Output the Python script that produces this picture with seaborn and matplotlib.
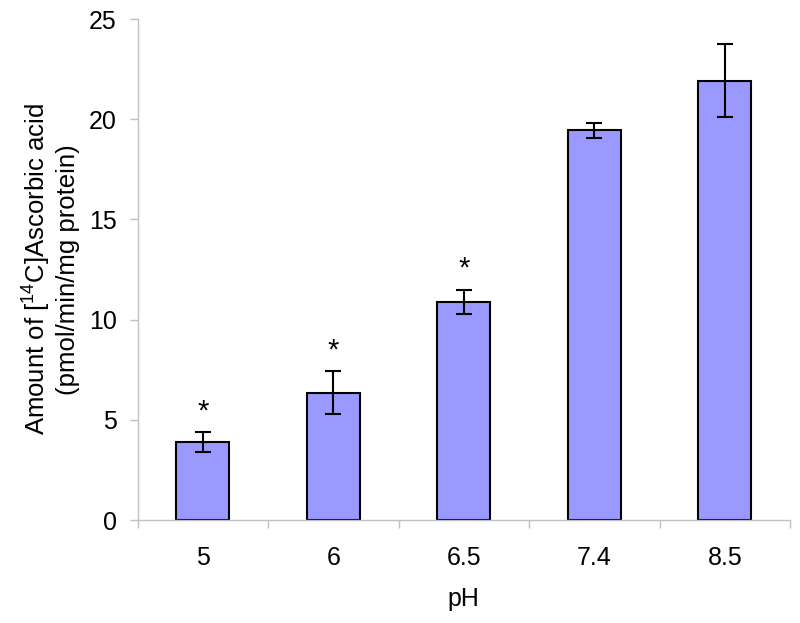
import numpy as np
import pandas as pd
import matplotlib
matplotlib.use('Agg')
import matplotlib.pyplot as plt
import seaborn as sns

# Data
ph_labels = ['5', '6', '6.5', '7.4', '8.5']
uptake    = [3.88, 6.36, 10.88, 19.45, 21.93]
sem       = [0.49, 1.06, 0.60, 0.37, 1.80]
signif    = ['*', '*', '*', '', '']

sns.set_style('white')
plt.rcParams['font.family'] = ['Liberation Sans', 'DejaVu Sans']
plt.rcParams['mathtext.fontset'] = 'custom'
plt.rcParams['mathtext.rm'] = 'Liberation Sans'
plt.rcParams['mathtext.it'] = 'Liberation Sans'
plt.rcParams['text.color'] = 'black'
plt.rcParams['axes.labelcolor'] = 'black'

df = pd.DataFrame({'pH': ph_labels, 'uptake': uptake})

fig = plt.figure(figsize=(8, 6.23), dpi=100)
ax = fig.add_axes([0.1719, 0.1653, 0.8156, 0.8042])

sns.barplot(data=df, x='pH', y='uptake', color='#9999ff', saturation=1,
            width=0.406, edgecolor='black', linewidth=1.5, errorbar=None, ax=ax)

xpos = np.arange(len(ph_labels))
ax.errorbar(xpos, uptake, yerr=sem, fmt='none', ecolor='black',
            elinewidth=1.5, capsize=6, capthick=1.5)

# significance markers
for x, v, e, s in zip(xpos, uptake, sem, signif):
    if s:
        ax.annotate(s, (x, v + e), xytext=(0, 5), textcoords='offset points',
                    ha='center', va='bottom', fontsize=21)

ax.set_xlim(-0.5, len(ph_labels) - 0.5)
ax.set_ylim(0, 25)
ax.set_yticks(range(0, 26, 5))

# Excel-like ticks: between categories on x
ax.set_xticks(xpos)
ax.set_xticklabels(ph_labels)
ax.set_xticks(np.arange(-0.5, len(ph_labels)), minor=True)
ax.tick_params(axis='x', which='major', length=0, pad=19, labelsize=18,
               labelcolor='black')
ax.tick_params(axis='x', which='minor', length=5.5, color='#c0c0c0', width=1,
               direction='out', bottom=True)
ax.tick_params(axis='y', length=6, color='#c0c0c0', width=1, direction='out',
               left=True, pad=9, labelsize=18, labelcolor='black')

for side in ['top', 'right']:
    ax.spines[side].set_visible(False)
for side in ['left', 'bottom']:
    ax.spines[side].set_color('#c0c0c0')
    ax.spines[side].set_linewidth(1)

ax.set_xlabel('pH', fontsize=18, labelpad=12)
ax.set_ylabel('Amount of [$^{14}$C]Ascorbic acid\n(pmol/min/mg protein)',
              fontsize=18.5, labelpad=6, linespacing=1.2)

fig.savefig('out.png', dpi=100)
